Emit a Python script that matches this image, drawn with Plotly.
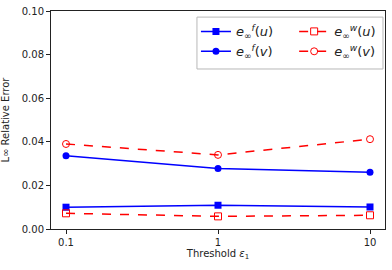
import plotly.graph_objects as go

thresholds = [0.1, 1, 10]
tick_labels = ["0.1", "1", "10"]
ef_u = [0.0100, 0.0109, 0.0101]
ef_v = [0.0336, 0.0278, 0.0260]
ew_u = [0.0072, 0.0058, 0.0063]
ew_v = [0.0390, 0.0340, 0.0412]

blue = "#0000ff"
red = "#ff0000"

fig = go.Figure()
fig.add_trace(go.Scatter(x=thresholds, y=ef_u, mode="lines+markers",
    name="<i>e</i><sub>∞</sub><sup><i>f</i></sup>(<i>u</i>)",
    line=dict(color=blue, width=1.5), marker=dict(symbol="square", size=7, color=blue),
    legend="legend"))
fig.add_trace(go.Scatter(x=thresholds, y=ef_v, mode="lines+markers",
    name="<i>e</i><sub>∞</sub><sup><i>f</i></sup>(<i>v</i>)",
    line=dict(color=blue, width=1.5), marker=dict(symbol="circle", size=7, color=blue),
    legend="legend"))
fig.add_trace(go.Scatter(x=thresholds, y=ew_u, mode="lines+markers",
    name="<i>e</i><sub>∞</sub><sup><i>w</i></sup>(<i>u</i>)",
    line=dict(color=red, width=1.5, dash="dash"),
    marker=dict(symbol="square-open", size=7, color=red, line=dict(width=1)),
    legend="legend2"))
fig.add_trace(go.Scatter(x=thresholds, y=ew_v, mode="lines+markers",
    name="<i>e</i><sub>∞</sub><sup><i>w</i></sup>(<i>v</i>)",
    line=dict(color=red, width=1.5, dash="dash"),
    marker=dict(symbol="circle-open", size=7, color=red, line=dict(width=1)),
    legend="legend2"))

fig.add_shape(type="rect", xref="paper", yref="paper", x0=0.437, x1=0.994, y0=0.734, y1=0.972,
              line=dict(color="#b8b8b8", width=1), fillcolor="rgba(255,255,255,0.8)", layer="above")

legfont = dict(family="DejaVu Sans", size=13, color="#222")
fig.update_layout(
    width=392, height=270,
    margin=dict(l=51, r=7, t=11, b=41),
    paper_bgcolor="white", plot_bgcolor="white",
    font=dict(family="DejaVu Sans", size=10, color="#222"),
    showlegend=True,
    legend=dict(x=0.434, y=0.975, xanchor="left", yanchor="top", bgcolor="rgba(0,0,0,0)",
                font=legfont, tracegroupgap=0, itemwidth=30),
    legend2=dict(x=0.728, y=0.975, xanchor="left", yanchor="top", bgcolor="rgba(0,0,0,0)",
                 font=legfont, tracegroupgap=0, itemwidth=30),
    xaxis=dict(type="log", range=[-1.0987, 1.0987], tickvals=thresholds, ticktext=tick_labels,
               ticks="outside", ticklen=4, tickcolor="#222", showline=True, linecolor="#222",
               mirror=True, showgrid=False, zeroline=False, automargin=False,
               title=dict(text="Threshold <i>ε</i><sub>1</sub>", font=dict(size=10), standoff=0)),
    yaxis=dict(range=[0, 0.10], tickvals=[0, 0.02, 0.04, 0.06, 0.08, 0.10],
               ticktext=["0.00", "0.02", "0.04", "0.06", "0.08", "0.10"],
               ticks="outside", ticklen=4, tickcolor="#222", showline=True, linecolor="#222",
               mirror=True, showgrid=False, zeroline=False, automargin=False,
               title=dict(text="L∞ Relative Error", font=dict(size=10), standoff=12)),
)

fig.write_html("out.html", config={"displayModeBar": False},
               post_script="document.body.style.margin='0px';")
